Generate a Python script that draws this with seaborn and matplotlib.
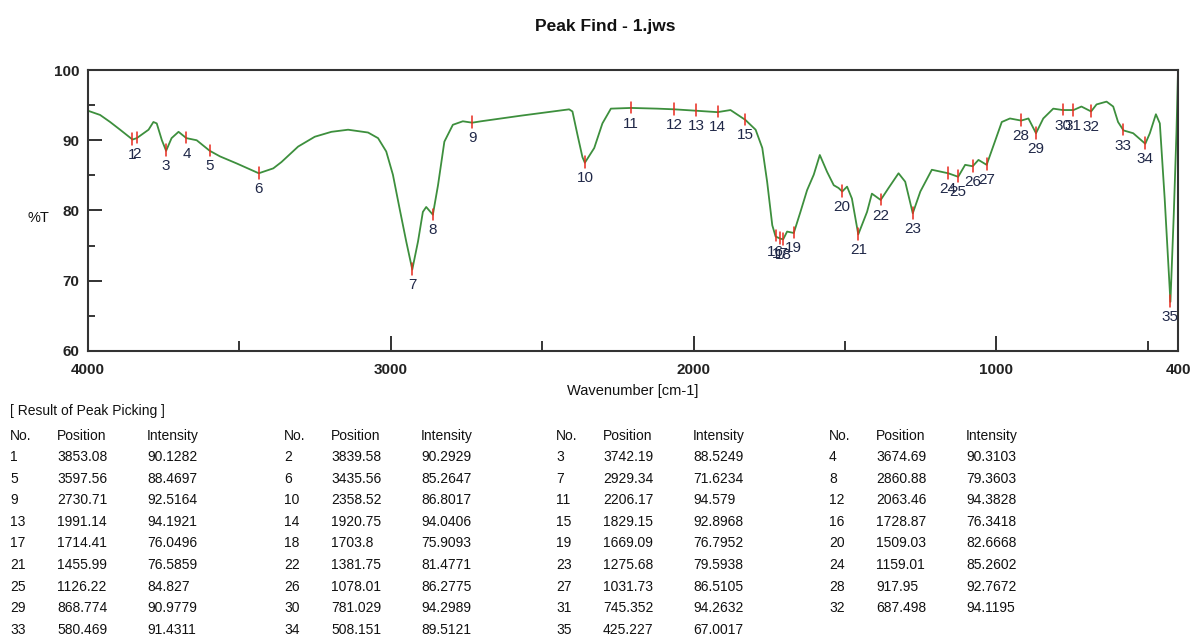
import pandas as pd
import seaborn as sns
import matplotlib.pyplot as plt
from matplotlib.ticker import MultipleLocator

# spectrum: wavenumber [cm-1] and %T
wavenumber = [4000, 3960, 3927, 3894, 3853, 3839, 3800, 3784, 3773, 3756,
              3742, 3724, 3701, 3675, 3641, 3598, 3564, 3509, 3436, 3388,
              3361, 3306, 3251, 3196, 3141, 3075, 3042, 3015, 2993, 2971,
              2949, 2929, 2910, 2894, 2883, 2861, 2844, 2823, 2795, 2762,
              2731, 2702, 2570, 2411, 2400, 2383, 2367, 2359, 2328, 2301,
              2273, 2206, 2120, 2063, 1991, 1921, 1878, 1829, 1795, 1773,
              1757, 1740, 1729, 1714, 1704, 1691, 1669, 1647, 1625, 1603,
              1583, 1559, 1537, 1521, 1509, 1493, 1477, 1456, 1427, 1411,
              1382, 1356, 1323, 1301, 1276, 1251, 1213, 1159, 1126, 1103,
              1078, 1059, 1032, 1009, 982, 955, 918, 894, 869, 845, 812,
              781, 745, 719, 687, 669, 636, 614, 598, 580, 548, 508, 493,
              473, 460, 444, 425, 414, 405, 400]
transmittance = [94.2, 93.6, 92.6, 91.5, 90.1, 90.3, 91.5, 92.6, 92.4, 90.0,
                 88.5, 90.3, 91.2, 90.3, 90.0, 88.5, 87.7, 86.7, 85.3, 86.0,
                 86.9, 89.1, 90.5, 91.2, 91.5, 91.1, 90.3, 88.4, 85.1, 80.3,
                 75.6, 71.6, 75.6, 79.8, 80.5, 79.4, 83.6, 89.8, 92.2, 92.7,
                 92.5, 92.7, 93.5, 94.4, 94.1, 90.7, 87.6, 86.8, 88.9, 92.4,
                 94.5, 94.6, 94.5, 94.4, 94.2, 94.0, 94.3, 92.9, 91.5, 88.9,
                 84.1, 77.9, 76.3, 76.0, 75.9, 77.0, 76.8, 79.8, 82.9, 85.1,
                 87.9, 85.5, 83.6, 83.2, 82.7, 83.4, 81.7, 76.6, 79.8, 82.4,
                 81.5, 83.2, 85.3, 84.1, 79.6, 82.7, 85.8, 85.3, 84.8, 86.5,
                 86.3, 87.2, 86.5, 89.3, 92.6, 93.1, 92.8, 93.1, 91.0, 93.1,
                 94.5, 94.3, 94.3, 94.8, 94.1, 95.1, 95.5, 94.8, 92.6, 91.4,
                 91.0, 89.5, 91.0, 93.7, 92.4, 81.7, 67.0, 79.4, 91.2, 99.8]

# peak picking table
peak_no = list(range(1, 36))
peak_pos = ["3853.08", "3839.58", "3742.19", "3674.69", "3597.56", "3435.56",
            "2929.34", "2860.88", "2730.71", "2358.52", "2206.17", "2063.46",
            "1991.14", "1920.75", "1829.15", "1728.87", "1714.41", "1703.8",
            "1669.09", "1509.03", "1455.99", "1381.75", "1275.68", "1159.01",
            "1126.22", "1078.01", "1031.73", "917.95", "868.774", "781.029",
            "745.352", "687.498", "580.469", "508.151", "425.227"]
peak_int = ["90.1282", "90.2929", "88.5249", "90.3103", "88.4697", "85.2647",
            "71.6234", "79.3603", "92.5164", "86.8017", "94.579", "94.3828",
            "94.1921", "94.0406", "92.8968", "76.3418", "76.0496", "75.9093",
            "76.7952", "82.6668", "76.5859", "81.4771", "79.5938", "85.2602",
            "84.827", "86.2775", "86.5105", "92.7672", "90.9779", "94.2989",
            "94.2632", "94.1195", "91.4311", "89.5121", "67.0017"]

sns.set_theme(style="ticks")
plt.rcParams['font.family'] = ['Liberation Sans', 'DejaVu Sans']

W, H = 1192, 637
fig = plt.figure(figsize=(W / 100, H / 100), dpi=100)
ax = fig.add_axes([88 / W, 1 - 351 / H, 1090 / W, 281 / H])

spec = pd.DataFrame({"wn": wavenumber, "T": transmittance})
sns.lineplot(data=spec, x="wn", y="T", sort=False, color="#3d8f3d",
             linewidth=1.3, ax=ax)

# peak markers and numbers
for n, p, t in zip(peak_no, peak_pos, peak_int):
    p, t = float(p), float(t)
    ax.plot([p, p], [t - 0.75, t + 0.9], color="#e82a1e", linewidth=1.1)
    ax.text(p, t - 2.2, str(n), ha="center", va="center", fontsize=11,
            color="#202848")

ax.set_xlim(4000, 400)
ax.set_ylim(60, 100)
ax.set_xticks([4000, 3000, 2000, 1000, 400])
ax.xaxis.set_minor_locator(MultipleLocator(500))
ax.yaxis.set_major_locator(MultipleLocator(10))
ax.yaxis.set_minor_locator(MultipleLocator(5))
ax.tick_params(axis="x", which="major", direction="in", length=11, width=1.3,
               labelsize=11, pad=9, colors="#222222")
ax.tick_params(axis="x", which="minor", direction="in", length=7, width=1.3)
ax.tick_params(axis="y", which="major", direction="in", length=10, width=1.3,
               labelsize=11, pad=6, colors="#222222")
ax.tick_params(axis="y", which="minor", direction="in", length=5, width=1.3)
for lab in ax.get_xticklabels() + ax.get_yticklabels():
    lab.set_fontweight("bold")
for s in ax.spines.values():
    s.set_visible(True)
    s.set_linewidth(1.5)
    s.set_color("#333333")
ax.set_xlabel("")
ax.set_ylabel("")

def px(x, y):
    return x / W, 1 - y / H

fig.text(*px(605, 27), "Peak Find - 1.jws", ha="center", va="center",
         fontsize=12.5, fontweight="bold", color="#111111")
fig.text(*px(633, 391), "Wavenumber [cm-1]", ha="center", va="center",
         fontsize=10.5, color="#111111")
fig.text(*px(38, 218), "%T", ha="center", va="center", fontsize=10.5,
         color="#111111")

# result table
fig.text(*px(10, 411), "[ Result of Peak Picking ]", ha="left", va="center",
         fontsize=10, color="#111111")
group_x = [10, 284, 556, 829]
col_dx = [0, 47, 137]
for g in group_x:
    for dx, head in zip(col_dx, ["No.", "Position", "Intensity"]):
        fig.text(*px(g + dx, 436), head, ha="left", va="center",
                 fontsize=10, color="#111111")
for i, (n, p, t) in enumerate(zip(peak_no, peak_pos, peak_int)):
    row, grp = divmod(i, 4)
    y = 457 + row * 21.6
    for dx, val in zip(col_dx, [str(n), p, t]):
        fig.text(*px(group_x[grp] + dx, y), val, ha="left", va="center",
                 fontsize=10, color="#111111")

fig.savefig("out.png", dpi=100)
